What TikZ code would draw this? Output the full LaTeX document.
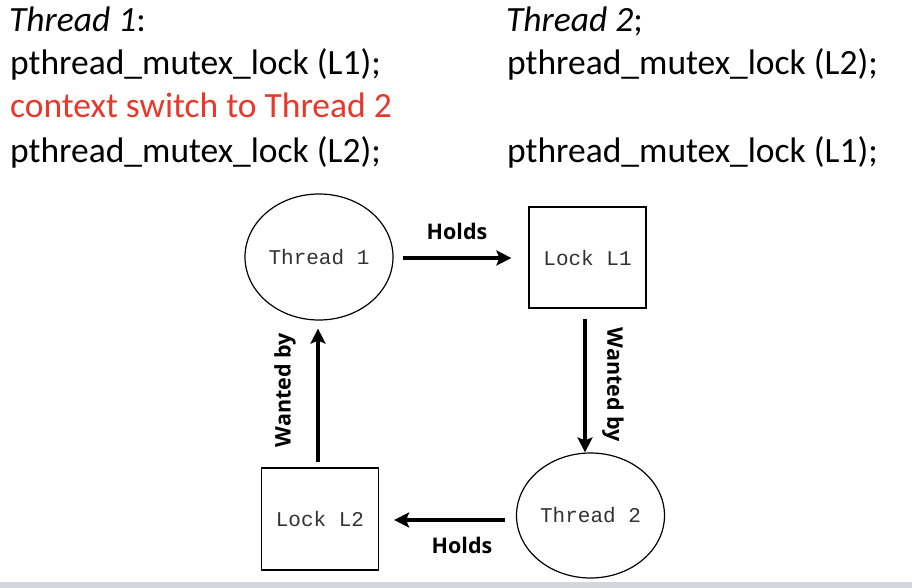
\documentclass[tikz,border=0pt]{standalone}
\usepackage{fontspec}
\setmainfont{Carlito}
\newfontfamily\monofont{Liberation Mono}
\newfontfamily\labfont{Open Sans}
\usetikzlibrary{arrows.meta,shapes.geometric}
\definecolor{ctxred}{RGB}{232,56,44}
\definecolor{monogray}{RGB}{50,50,50}
\definecolor{bandgray}{RGB}{211,215,219}
\tikzset{
  codetext/.style={anchor=base west, inner sep=0pt, font=\fontsize{35.5}{40}\selectfont},
  threadnode/.style={draw, ellipse, line width=1.2pt, minimum width=148pt, minimum height=126pt, inner sep=0pt, font=\monofont\fontsize{21}{24}\selectfont, text=monogray},
  locknode/.style={draw, rectangle, line width=1.2pt, minimum width=117pt, minimum height=101pt, inner sep=0pt, font=\monofont\fontsize{21}{24}\selectfont, text=monogray},
  arr/.style={line width=3.2pt, -{Stealth[length=15pt,width=15pt,inset=3pt]}},
  edgelabel/.style={inner sep=0pt, font=\labfont\bfseries\fontsize{21.5}{24}\selectfont}
}
\begin{document}
\begin{tikzpicture}[x=1pt,y=-1pt]
\useasboundingbox (0,0) rectangle (912,588);
\fill[white] (0,0) rectangle (912,588);
\fill[bandgray] (0,582) rectangle (912,588);
% code text
\node[codetext] (a1) at (9,32) {\itshape Thread 1\upshape:};
\node[codetext] (a2) at (10,75) {pthread\_mutex\_lock (L1);};
\node[codetext, text=ctxred] (a3) at (10,118) {context switch to Thread 2};
\node[codetext] (a4) at (10,163) {pthread\_mutex\_lock (L2);};
\node[codetext] (b1) at (506,32) {\itshape Thread 2\upshape;};
\node[codetext] (b2) at (507,75) {pthread\_mutex\_lock (L2);};
\node[codetext] (b4) at (507,163) {pthread\_mutex\_lock (L1);};
% graph
\node[threadnode] (t1) at (319,257) {Thread 1};
\node[locknode] (l1) at (587.5,257.5) {Lock L1};
\node[threadnode, minimum height=125pt] (t2) at (590.5,515.5) {Thread 2};
\node[locknode, minimum height=102pt] (l2) at (320,519) {Lock L2};
\coordinate (topy) at (0,258);
\coordinate (boty) at (0,520);
\coordinate (leftx) at (318,0);
\coordinate (rightx) at (585,0);
\draw[arr, shorten <=9pt, shorten >=17pt] (t1.east |- topy) -- (l1.west |- topy);
\draw[arr, shorten <=10pt] (rightx |- l1.south) -- (rightx |- t2.north);
\draw[arr, shorten <=11pt, shorten >=15pt] (t2.west |- boty) -- (l2.east |- boty);
\draw[arr, shorten <=5pt, shorten >=8pt] (leftx |- l2.north) -- (leftx |- t1.south);
\node[edgelabel] (h1) at (457,231) {Holds};
\node[edgelabel] (h2) at (462,545) {Holds};
\node[edgelabel, rotate=90] (w1) at (285,390) {Wanted by};
\node[edgelabel, rotate=-90] (w2) at (613,385) {Wanted by};
\end{tikzpicture}
\end{document}
